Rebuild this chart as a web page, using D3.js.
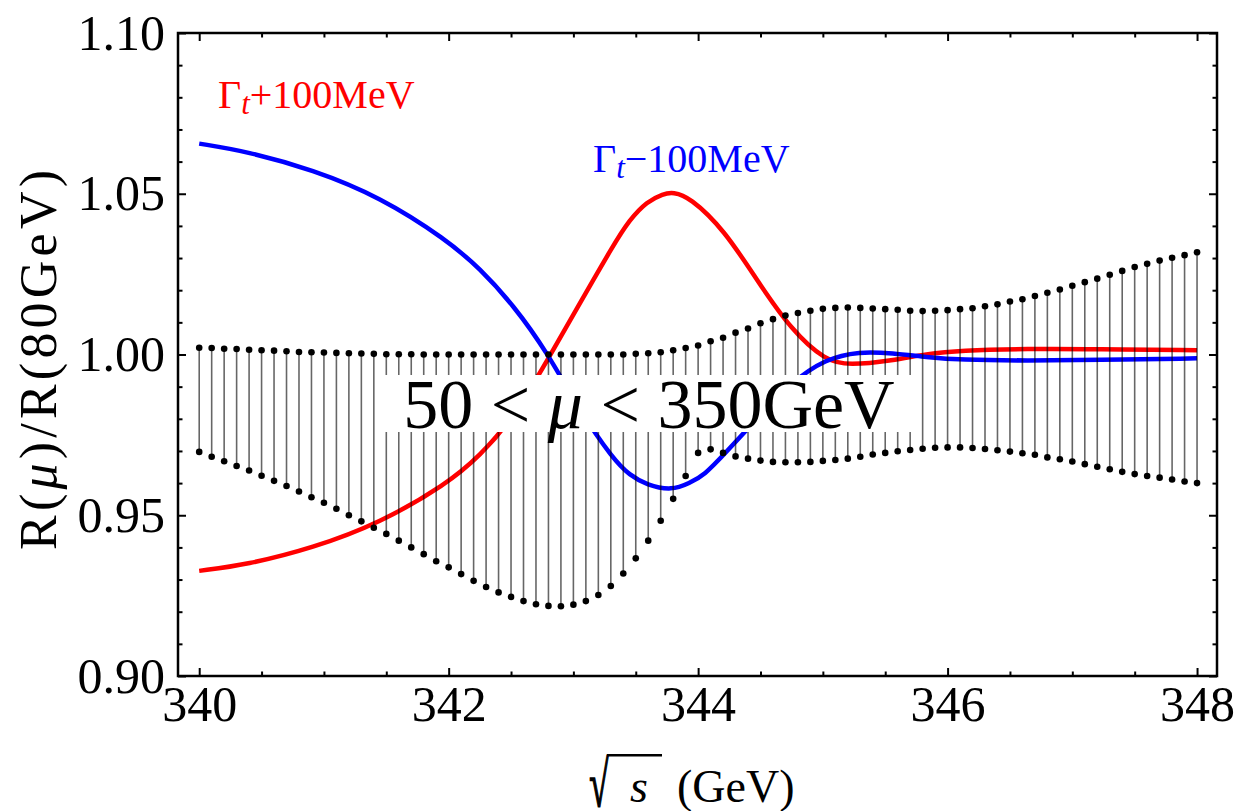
<!DOCTYPE html>
<html>
<head>
<meta charset="utf-8">
<script src="https://cdn.jsdelivr.net/npm/d3@7"></script>
<style>
  body { margin: 0; background: #fff; }
  svg { display: block; }
  text { font-family: "Liberation Serif", "Times New Roman", serif; fill: #000; }
</style>
</head>
<body>
<svg id="chart" width="1242" height="811"></svg>
<script>
// Centre-of-mass energy grid (GeV) for the scale-variation band
const bandEnergy = d3.range(81).map(i => +(340 + i * 0.1).toFixed(1));

// Upper / lower edge of R(mu)/R(80 GeV) for 50 < mu < 350 GeV
const bandUpper = [
  1.0021, 1.0020, 1.0018, 1.0017, 1.0015, 1.0013, 1.0012, 1.0010, 1.0008, 1.0007,
  1.0006, 1.0005, 1.0004, 1.0003, 1.0002, 1.0001, 1.0001, 1.0001, 1.0000, 1.0000,
  1.0000, 1.0000, 1.0000, 1.0000, 1.0000, 1.0000, 1.0000, 1.0000, 1.0000, 1.0000,
  1.0000, 1.0000, 1.0000, 1.0000, 1.0000, 1.0002, 1.0004, 1.0007, 1.0013, 1.0020,
  1.0028, 1.0041, 1.0052, 1.0068, 1.0081, 1.0097, 1.0110, 1.0121, 1.0129, 1.0136,
  1.0142, 1.0145, 1.0146, 1.0145, 1.0143, 1.0141, 1.0139, 1.0136, 1.0135, 1.0136,
  1.0138, 1.0141, 1.0144, 1.0150, 1.0156, 1.0165, 1.0172, 1.0182, 1.0192, 1.0202,
  1.0214, 1.0225, 1.0236, 1.0248, 1.0260, 1.0272, 1.0282, 1.0292, 1.0301, 1.0309,
  1.0318
];
const bandLower = [
  0.9697, 0.9682, 0.9668, 0.9653, 0.9639, 0.9623, 0.9607, 0.9591, 0.9574, 0.9556,
  0.9539, 0.9520, 0.9500, 0.9481, 0.9461, 0.9442, 0.9421, 0.9400, 0.9379, 0.9357,
  0.9338, 0.9317, 0.9296, 0.9277, 0.9260, 0.9246, 0.9233, 0.9223, 0.9218, 0.9217,
  0.9222, 0.9233, 0.9252, 0.9280, 0.9319, 0.9366, 0.9421, 0.9483, 0.9551, 0.9622,
  0.9694, 0.9705, 0.9694, 0.9683, 0.9676, 0.9670, 0.9666, 0.9665, 0.9665, 0.9666,
  0.9669, 0.9672, 0.9676, 0.9682, 0.9689, 0.9694, 0.9699, 0.9703, 0.9707, 0.9710,
  0.9711, 0.9711, 0.9709, 0.9706, 0.9702, 0.9698, 0.9693, 0.9688, 0.9680, 0.9674,
  0.9667, 0.9659, 0.9651, 0.9643, 0.9635, 0.9628, 0.9622, 0.9617, 0.9611, 0.9605,
  0.9600
];

// Width shifted by +100 MeV
const plusEnergy = [340.00, 340.38, 340.91, 341.45, 341.98, 342.25, 342.52, 342.79, 343.05, 343.32,
  343.45, 343.59, 343.72, 343.80, 343.93, 344.21, 344.48, 344.75, 345.02, 345.21,
  345.56, 345.83, 346.10, 346.64, 347.19, 348.00];
const plusRatio = [0.9327, 0.9346, 0.9398, 0.9476, 0.9596, 0.9684, 0.9804, 0.9981, 1.0158, 1.0340,
  1.0419, 1.0476, 1.0500, 1.0505, 1.0490, 1.0388, 1.0226, 1.0075, 0.9981, 0.9966,
  0.9981, 1.0002, 1.0013, 1.0018, 1.0017, 1.0013];

// Width shifted by -100 MeV
const minusEnergy = [340.00, 340.38, 340.91, 341.45, 341.98, 342.25, 342.52, 342.79, 343.05, 343.32,
  343.45, 343.59, 343.79, 343.93, 344.05, 344.21, 344.48, 344.75, 345.02, 345.29, 345.56,
  345.83, 346.10, 346.64, 347.19, 348.00];
const minusRatio = [1.0656, 1.0632, 1.0575, 1.0490, 1.0358, 1.0268, 1.0153, 1.0007, 0.9825, 0.9674,
  0.9625, 0.9594, 0.9577, 0.9600, 0.9625, 0.9690, 0.9804, 0.9914, 0.9986, 1.0010, 1.0004,
  0.9992, 0.9983, 0.9981, 0.9983, 0.9988];

// Axis ticks
const xMajorTicks = [340, 342, 344, 346, 348];
const xMinorTicks = [340.5, 341, 341.5, 342.5, 343, 343.5, 344.5, 345, 345.5, 346.5, 347, 347.5];
const yMajorTicks = [0.90, 0.95, 1.00, 1.05, 1.10];
const yMinorTicks = [0.91, 0.92, 0.93, 0.94, 0.96, 0.97, 0.98, 0.99, 1.01, 1.02, 1.03, 1.04, 1.06, 1.07, 1.08, 1.09];

const svg = d3.select("#chart");
const L = 178, R = 1217, T = 33, B = 676;

const x = d3.scaleLinear().domain([339.83, 348.16]).range([L, R]);
const y = d3.scaleLinear().domain([0.90, 1.10]).range([B, T]);

// Curves
const line = d3.line()
  .x(d => x(d[0])).y(d => y(d[1]))
  .curve(d3.curveBasis);

svg.append("path")
  .attr("d", line(d3.zip(plusEnergy, plusRatio)))
  .attr("fill", "none").attr("stroke", "#ff0000").attr("stroke-width", 4.5);
svg.append("path")
  .attr("d", line(d3.zip(minusEnergy, minusRatio)))
  .attr("fill", "none").attr("stroke", "#0000ff").attr("stroke-width", 4.5);

// Scale-variation band: vertical segments with dots at both ends
const band = bandEnergy.map((e, i) => ({ e, hi: bandUpper[i], lo: bandLower[i] }));
svg.append("g").selectAll("line").data(band).join("line")
  .attr("x1", d => x(d.e)).attr("x2", d => x(d.e))
  .attr("y1", d => y(d.hi)).attr("y2", d => y(d.lo))
  .attr("stroke", "#000").attr("stroke-opacity", 0.6).attr("stroke-width", 1.6);
const dots = svg.append("g");
dots.selectAll("circle.hi").data(band).join("circle").attr("class", "hi")
  .attr("cx", d => x(d.e)).attr("cy", d => y(d.hi)).attr("r", 3.3).attr("fill", "#000");
dots.selectAll("circle.lo").data(band).join("circle").attr("class", "lo")
  .attr("cx", d => x(d.e)).attr("cy", d => y(d.lo)).attr("r", 3.3).attr("fill", "#000");

// Curve labels
function gammaLabel(xp, yp, sign, color) {
  const t = svg.append("text").attr("x", xp).attr("y", yp)
    .attr("font-size", 40).style("fill", color);
  t.append("tspan").text("Γ");
  t.append("tspan").text("t").attr("font-style", "italic").attr("font-size", 31).attr("dy", 6);
  t.append("tspan").text(sign + "100MeV").attr("dy", -6);
}
gammaLabel(218, 108, "+", "#ff0000");
gammaLabel(593, 172, "\u2212", "#0000ff");

// Scale range label on a white box
const cx = 649, cyBase = 428;
svg.append("rect").attr("x", cx - 264).attr("y", 375).attr("width", 528).attr("height", 57).attr("fill", "#fff");
const rl = svg.append("text").attr("x", cx).attr("y", cyBase).attr("text-anchor", "middle").attr("font-size", 70);
rl.append("tspan").text("50 < ");
rl.append("tspan").text("μ").attr("font-style", "italic");
rl.append("tspan").text(" < 350GeV");

// Axes (ticks pointing inward on all four sides)
function styleAxis(g) {
  g.select(".domain").remove();
  g.selectAll(".tick line").attr("stroke", "#000").attr("stroke-width", 2);
  g.selectAll("text").attr("font-size", 50).style("fill", "#000");
}
svg.append("g").attr("transform", `translate(0,${B})`)
  .call(d3.axisBottom(x).tickValues(xMajorTicks).tickSize(-8).tickPadding(9).tickFormat(d3.format("d"))).call(styleAxis);
svg.append("g").attr("transform", `translate(0,${B})`)
  .call(d3.axisBottom(x).tickValues(xMinorTicks).tickSize(-4.5).tickFormat("")).call(styleAxis);
svg.append("g").attr("transform", `translate(0,${T})`)
  .call(d3.axisTop(x).tickValues(xMajorTicks).tickSize(-8).tickFormat("")).call(styleAxis);
svg.append("g").attr("transform", `translate(0,${T})`)
  .call(d3.axisTop(x).tickValues(xMinorTicks).tickSize(-4.5).tickFormat("")).call(styleAxis);
svg.append("g").attr("transform", `translate(${L},0)`)
  .call(d3.axisLeft(y).tickValues(yMajorTicks).tickSize(-8).tickPadding(13).tickFormat(d3.format(".2f"))).call(styleAxis);
svg.append("g").attr("transform", `translate(${L},0)`)
  .call(d3.axisLeft(y).tickValues(yMinorTicks).tickSize(-4.5).tickFormat("")).call(styleAxis);
svg.append("g").attr("transform", `translate(${R},0)`)
  .call(d3.axisRight(y).tickValues(yMajorTicks).tickSize(-8).tickFormat("")).call(styleAxis);
svg.append("g").attr("transform", `translate(${R},0)`)
  .call(d3.axisRight(y).tickValues(yMinorTicks).tickSize(-4.5).tickFormat("")).call(styleAxis);

// Frame
svg.append("rect").attr("x", L).attr("y", T).attr("width", R - L).attr("height", B - T)
  .attr("fill", "none").attr("stroke", "#000").attr("stroke-width", 2.5);

// Y title
const yt = svg.append("text").attr("transform", "translate(56,360) rotate(-90)")
  .attr("text-anchor", "middle").attr("font-size", 52)
  .attr("textLength", 380).attr("lengthAdjust", "spacing");
yt.append("tspan").text("R(");
yt.append("tspan").text("μ").attr("font-style", "italic");
yt.append("tspan").text(")/R(80GeV)");

// X title: sqrt(s) (GeV). The radical glyph is stretched so its ink box
// spans the requested rectangle; the vinculum continues from its top right.
const radBox = { left: 590, right: 609, top: 754, bottom: 807 };
const fsRad = 50;
const ctx = document.createElement("canvas").getContext("2d");
ctx.font = `${fsRad}px "Liberation Serif"`;
const m = ctx.measureText("√");
const inkW = m.actualBoundingBoxLeft + m.actualBoundingBoxRight;
const inkH = m.actualBoundingBoxAscent + m.actualBoundingBoxDescent;
const sx = (radBox.right - radBox.left) / inkW;
const sy = (radBox.bottom - radBox.top) / inkH;
const ox = radBox.left + m.actualBoundingBoxLeft * sx;
const oy = radBox.top + m.actualBoundingBoxAscent * sy;
const xt = svg.append("g");
xt.append("text").attr("transform", `translate(${ox},${oy}) scale(${sx},${sy})`)
  .attr("font-size", fsRad).text("√")
  .style("stroke", "#000").style("stroke-width", 1.3).style("vector-effect", "non-scaling-stroke");
xt.append("line").attr("x1", radBox.right - 2).attr("x2", 662)
  .attr("y1", radBox.top + 1.2).attr("y2", radBox.top + 1.2)
  .attr("stroke", "#000").attr("stroke-width", 2.4);
xt.append("text").attr("x", 630).attr("y", 802).attr("font-size", 46).attr("font-style", "italic").text("s");
xt.append("text").attr("x", 677).attr("y", 802).attr("font-size", 46).text("(GeV)");
</script>
</body>
</html>
